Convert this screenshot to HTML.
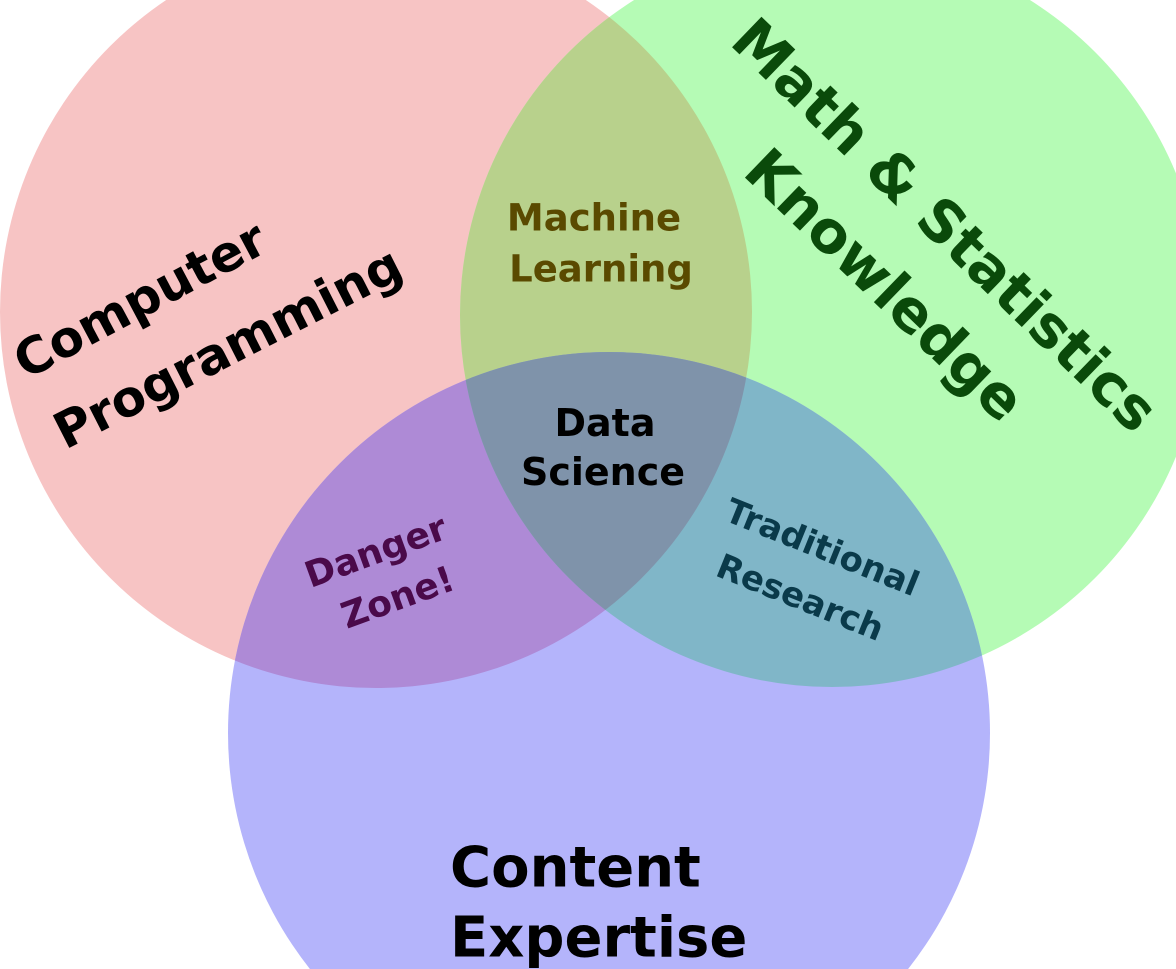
<!DOCTYPE html>
<html><head><meta charset="utf-8"><style>
html,body{margin:0;padding:0;background:#fff;width:1176px;height:969px;overflow:hidden;}
svg{display:block;}
text{font-family:"DejaVu Sans","Liberation Sans",sans-serif;font-weight:bold;}
</style></head><body>
<svg width="1176" height="969" viewBox="0 0 1176 969" xmlns="http://www.w3.org/2000/svg">
<defs>
<clipPath id="cr"><circle cx="376" cy="312" r="376"/></clipPath>
<clipPath id="cg"><circle cx="832" cy="315" r="372"/></clipPath>
<clipPath id="cb"><circle cx="609" cy="733" r="381"/></clipPath>
</defs>
<rect width="1176" height="969" fill="#fff"/>
<circle cx="376" cy="312" r="376" fill="#f7c4c4"/>
<circle cx="832" cy="315" r="372" fill="#b5fbb5"/>
<circle cx="609" cy="733" r="381" fill="#b4b4fb"/>
<g clip-path="url(#cr)"><circle cx="832" cy="315" r="372" fill="#b8d18c"/></g>
<g clip-path="url(#cr)"><circle cx="609" cy="733" r="381" fill="#ae8ad6"/></g>
<g clip-path="url(#cg)"><circle cx="609" cy="733" r="381" fill="#80b6c8"/></g>
<g clip-path="url(#cr)"><g clip-path="url(#cg)"><circle cx="609" cy="733" r="381" fill="#7f93aa"/></g></g>

<g fill="#000" font-size="50" text-anchor="middle" dominant-baseline="central">
<text transform="translate(140,300) rotate(-28)">Computer</text>
<text transform="translate(228,348) rotate(-27)">Programming</text>
</g>
<g fill="#0a4a0a" font-size="58" text-anchor="middle" dominant-baseline="central">
<text transform="translate(945,225) rotate(44)">Math &amp; Statistics</text>
<text transform="translate(885,285) rotate(44)">Knowledge</text>
</g>
<g fill="#5a4a00" font-size="37" text-anchor="middle" dominant-baseline="central">
<text x="594" y="218">Machine</text>
<text x="601" y="269">Learning</text>
</g>
<g fill="#000" font-size="38" text-anchor="middle" dominant-baseline="central">
<text x="605" y="423">Data</text>
<text x="603" y="472">Science</text>
</g>
<g fill="#4a0a4a" font-size="36" text-anchor="middle" dominant-baseline="central">
<text transform="translate(376,552) rotate(-20)">Danger</text>
<text transform="translate(398,598) rotate(-20)">Zone!</text>
</g>
<g fill="#0a3a4a" font-size="34" text-anchor="middle" dominant-baseline="central">
<text transform="translate(822,548) rotate(22)">Traditional</text>
<text transform="translate(800,598) rotate(22)">Research</text>
</g>
<g fill="#000" font-size="56" dominant-baseline="central">
<text x="450" y="868">Content</text>
<text x="450" y="938">Expertise</text>
</g>
</svg>
</body></html>
